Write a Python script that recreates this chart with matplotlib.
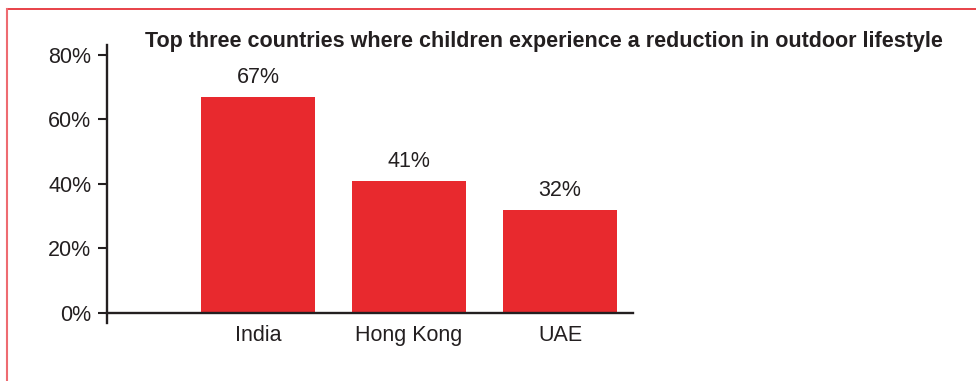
import matplotlib
matplotlib.use("Agg")
import matplotlib.pyplot as plt
from matplotlib.lines import Line2D

countries = ["India", "Hong Kong", "UAE"]
shares = [67, 41, 32]
value_labels = ["67%", "41%", "32%"]
y_ticks = [0, 20, 40, 60, 80]
y_tick_labels = ["0%", "20%", "40%", "60%", "80%"]
title = "Top three countries where children experience a reduction in outdoor lifestyle"

W, H = 976, 381
DPI = 100
BAR_RED = "#e8292e"
TEXT = "#231f20"
AXIS = "#231f20"
LABEL_SIZE = 15.5

plt.rcParams["font.family"] = ["Liberation Sans", "DejaVu Sans"]

fig = plt.figure(figsize=(W / DPI, H / DPI), dpi=DPI)
fig.patch.set_facecolor("white")

# axes box in pixel units (left, top, right, bottom measured from top-left)
left_px, right_px = 106.5, 633
top_px, bottom_px = 45, 323
ax = fig.add_axes([left_px / W, 1 - bottom_px / H,
                   (right_px - left_px) / W, (bottom_px - top_px) / H])

px_per_unit_y = 3.23
zero_px = 313
ax.set_ylim(-(bottom_px - zero_px) / px_per_unit_y, (zero_px - top_px) / px_per_unit_y)

bar_spacing_px = 151
first_center_px = 258
xs = list(range(len(countries)))
ax.set_xlim((left_px - first_center_px) / bar_spacing_px,
            (right_px - first_center_px) / bar_spacing_px)

bars = ax.bar(xs, shares, width=114 / bar_spacing_px, color=BAR_RED, zorder=2)

for x, v, lab in zip(xs, shares, value_labels):
    ax.annotate(lab, xy=(x, v), xytext=(0, 13.5), textcoords="offset points",
                ha="center", va="center", fontsize=LABEL_SIZE, color=TEXT)

for side in ("top", "right"):
    ax.spines[side].set_visible(False)
ax.spines["bottom"].set_position(("data", 0))
for side in ("left", "bottom"):
    ax.spines[side].set_linewidth(1.7)
    ax.spines[side].set_color(AXIS)
    ax.spines[side].set_zorder(3)

ax.set_yticks(y_ticks)
ax.set_yticklabels(y_tick_labels)
ax.tick_params(axis="y", length=6.5, width=1.5, color=AXIS, pad=4.5,
               labelsize=LABEL_SIZE, labelcolor=TEXT)
ax.set_xticks(xs)
ax.set_xticklabels(countries)
ax.tick_params(axis="x", length=0, pad=8.5, labelsize=LABEL_SIZE, labelcolor=TEXT)

fig.text(544 / W, 1 - 41.5 / H, title, ha="center", va="center",
         fontsize=15.5, fontweight="bold", color=TEXT)

# frame: top and left rules
fig.add_artist(Line2D([7 / W, 1], [1 - 9 / H, 1 - 9 / H],
                      transform=fig.transFigure, color="#e63339", lw=1.3))
fig.add_artist(Line2D([7 / W, 7 / W], [1 - 9 / H, 0],
                      transform=fig.transFigure, color="#ee6b71", lw=1.5))

fig.savefig("out.png", dpi=DPI, facecolor="white")
